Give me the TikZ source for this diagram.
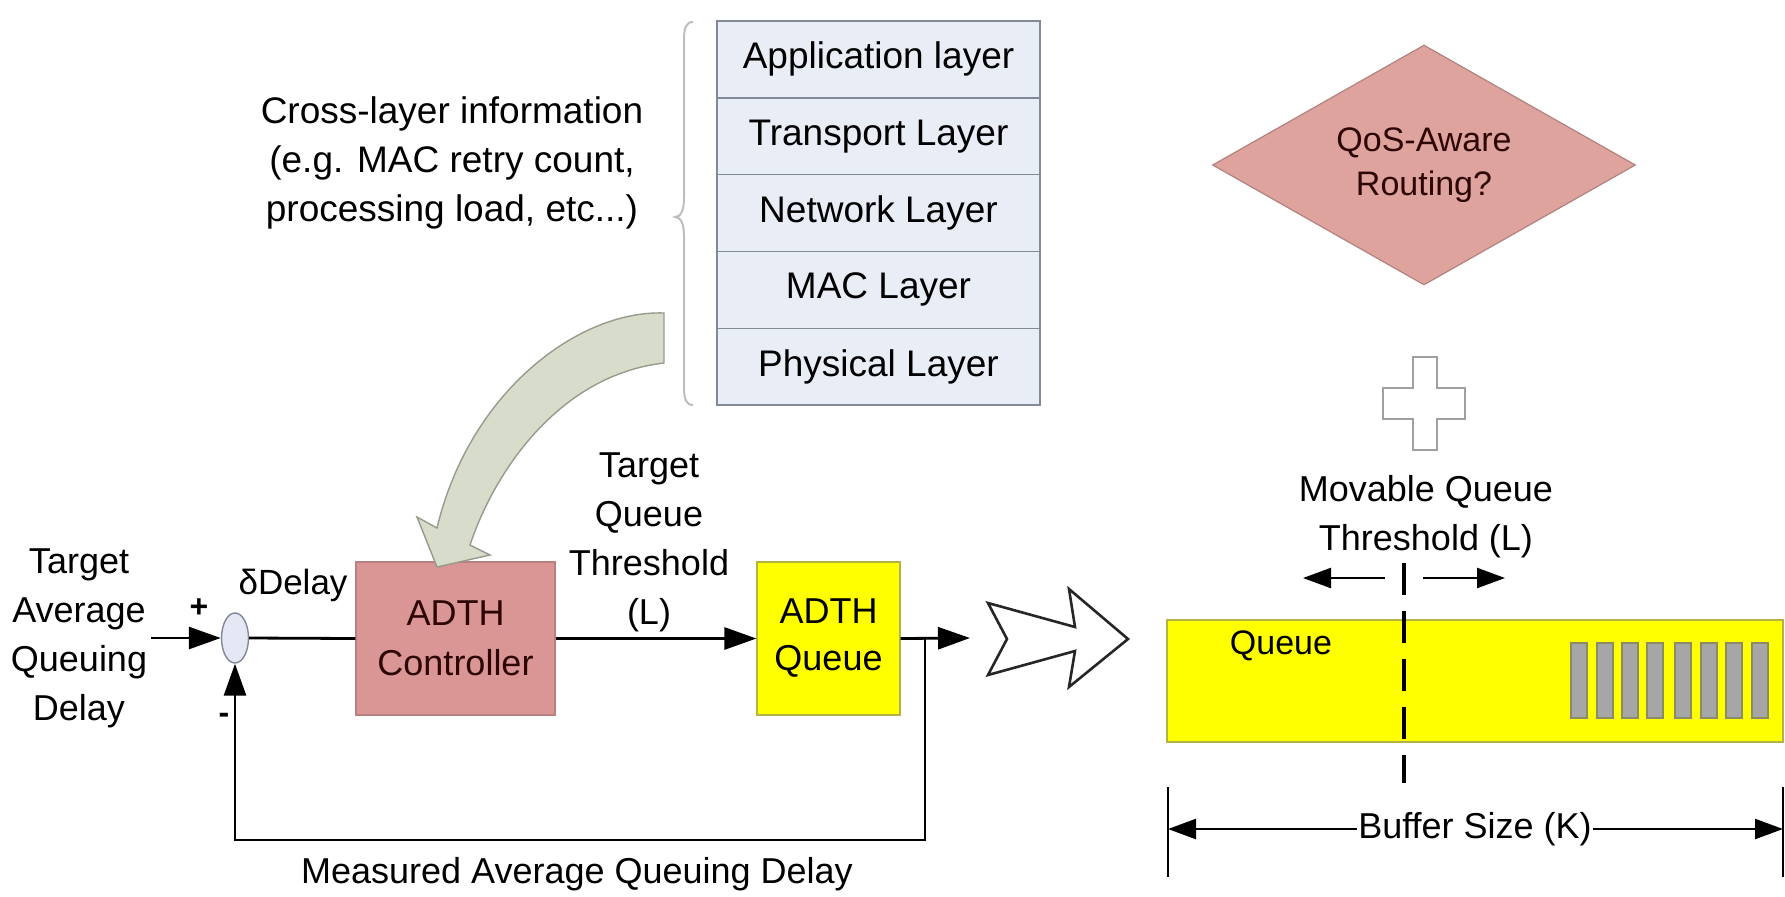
\documentclass[tikz,border=0pt]{standalone}
\usepackage{fontspec}
\setmainfont{Liberation Sans}
\usetikzlibrary{arrows.meta,shapes.geometric}
\definecolor{ctrlfill}{RGB}{217,150,148}
\definecolor{diamfill}{RGB}{222,163,157}
\definecolor{redtext}{RGB}{45,5,5}
\definecolor{qyellow}{RGB}{255,255,0}
\definecolor{qborder}{RGB}{180,180,70}
\definecolor{layerfill}{RGB}{233,237,246}
\definecolor{layerborder}{RGB}{130,138,152}
\definecolor{arrowfill}{RGB}{215,220,203}
\definecolor{arrowborder}{RGB}{150,155,140}
\definecolor{sumfill}{RGB}{228,232,245}
\definecolor{sumborder}{RGB}{130,135,150}
\definecolor{pktfill}{RGB}{166,166,166}
\definecolor{pktborder}{RGB}{140,140,100}
\definecolor{bracecol}{RGB}{190,190,190}
\definecolor{crosscol}{RGB}{160,160,160}
\tikzset{
  txt/.style={font=\fontsize{18}{24.5}\selectfont, align=center, inner sep=0pt},
  ln/.style={line width=1.4pt},
  flow/.style={line width=1.4pt, -{Triangle[length=16pt,width=11pt]}},
  thin flow/.style={line width=1.2pt, -{Triangle[length=14pt,width=10pt]}},
  layer/.style={draw=layerborder, fill=layerfill, line width=0.7pt, minimum width=161.5pt,
    minimum height=38.4pt, inner sep=0pt, font=\fontsize{18.5}{22}\selectfont},
  ctrlbox/.style={draw=ctrlfill!85!black, fill=ctrlfill, line width=0.6pt, minimum width=99.5pt,
    minimum height=76.5pt, inner sep=0pt, text=redtext, align=center, font=\fontsize{18}{25}\selectfont},
  qbox/.style={draw=qborder, fill=qyellow, line width=0.6pt, minimum width=71.5pt,
    minimum height=76.5pt, inner sep=0pt, align=center, font=\fontsize{18}{23.5}\selectfont},
  pkt/.style={draw=pktborder, fill=pktfill, line width=0.6pt},
}
\begin{document}
\begin{tikzpicture}[x=0.5pt,y=-0.5pt]
\useasboundingbox (0,0) rectangle (1785,896);

% ---- protocol stack ----
\node[layer] (app) at (878.5,59.4) {Application layer};
\node[layer] (tra) at (878.5,136.2) {Transport Layer};
\node[layer] (net) at (878.5,213) {Network Layer};
\node[layer] (mac) at (878.5,289.8) {MAC Layer};
\node[layer] (phy) at (878.5,366.6) {Physical Layer};

% brace
\draw[bracecol, line width=1pt] (693,22) .. controls (686,22) and (684,28) .. (684,40)
  -- (684,198) .. controls (684,210) and (681,217) .. (675,217)
  .. controls (681,217) and (684,224) .. (684,236)
  -- (684,387) .. controls (684,399) and (686,405) .. (693,405);

\node[txt, font=\fontsize{18.5}{24.5}\selectfont] (cross) at (452,163)
  {Cross-layer information\\(e.g. MAC retry count,\\processing load, etc...)};

% ---- control loop ----
\node[txt] (tad) at (79,638) {Target\\Average\\Queuing\\Delay};
\node[ellipse, draw=sumborder, fill=sumfill, line width=0.7pt, minimum width=13.5pt,
  minimum height=25pt, inner sep=0pt] (sum) at (235,638) {};
\node[font=\fontsize{16}{16}\selectfont\bfseries, inner sep=0pt] (plus) at (199,608) {+};
\node[font=\fontsize{16}{16}\selectfont\bfseries, inner sep=0pt] (minus) at (224,718) {-};
\node[txt, font=\fontsize{17.5}{20}\selectfont] (dd) at (293,585) {δDelay};

\node[ctrlbox] (ctrl) at (455.5,638.5) {ADTH\\Controller};
\node[qbox] (q) at (828.5,638.5) {ADTH\\Queue};
\node[txt] (tqt) at (649,542) {Target\\Queue\\Threshold\\(L)};
\node[txt] (mad) at (577,874) {Measured Average Queuing Delay};

\coordinate (in) at (151,638);
\coordinate (out) at (970,638);
\coordinate (br) at (925,638);
\coordinate (fbc) at (925,840);

\draw[flow] (in) -- (sum.west);
\draw[ln] (sum.east) -- (ctrl.west);
\draw[flow] (ctrl.east) -- (q.west);
\draw[flow] (q.east) -- (out);
\draw[flow] (br) -- (fbc) -| (sum.south);

% curved cross-layer arrow
\draw[fill=arrowfill, draw=arrowborder, line width=0.7pt, line join=miter]
  (664,313) .. controls (580,310) and (470,390) .. (437,528)
  -- (417,517) -- (437,567) -- (490,555) -- (470,545)
  .. controls (495,470) and (560,375) .. (664,363) -- cycle;

% hollow block arrow
\draw[line width=1.3pt, fill=white, line join=miter, draw=black!85]
  (988,603) -- (1075,627) -- (1069,589) -- (1128,639) -- (1069,687)
  -- (1075,651) -- (988,675) -- (1007,639) -- cycle;

% ---- right side ----
\node[diamond, draw=diamfill!80!black, fill=diamfill, line width=0.6pt, aspect=1.7625,
  minimum width=211.5pt, minimum height=120pt, inner sep=0pt, text=redtext, align=center,
  font=\fontsize{17}{22}\selectfont] (qos) at (1424,165) {QoS-Aware\\Routing?};

\draw[crosscol, fill=white, line width=0.8pt]
  (1413,357) -- (1437,357) -- (1437,388) -- (1465,388) -- (1465,419) -- (1437,419)
  -- (1437,450) -- (1413,450) -- (1413,419) -- (1383,419) -- (1383,388) -- (1413,388) -- cycle;

\node[txt] (mqt) at (1426,517) {Movable Queue\\Threshold (L)};

\draw[draw=qborder, fill=qyellow, line width=0.6pt] (1167,620) rectangle (1783,742);
\node[txt, font=\fontsize{17}{20}\selectfont] (qlab) at (1281,646) {Queue};
\foreach \x in {1571,1597,1622,1647,1675,1701,1726,1752}
  \draw[pkt] (\x,643) rectangle ++(16,75);

\draw[line width=2.2pt, dash pattern=on 16pt off 8pt] (1404,563) -- (1404,783);

\coordinate (thl0) at (1385,578);
\coordinate (thl1) at (1303,578);
\coordinate (thr0) at (1423,578);
\coordinate (thr1) at (1505,578);
\draw[thin flow] (thl0) -- (thl1);
\draw[thin flow] (thr0) -- (thr1);

\node[txt, fill=white, inner xsep=0.5pt] (buf) at (1475,829) {Buffer Size (K)};
\coordinate (bla) at (1168,829);
\coordinate (bra) at (1783,829);
\draw[line width=0.8pt] (1168,787) -- (1168,877);
\draw[line width=0.8pt] (1783,787) -- (1783,877);
\draw[thin flow] (buf.west) -- (bla);
\draw[thin flow] (buf.east) -- (bra);
\end{tikzpicture}
\end{document}
